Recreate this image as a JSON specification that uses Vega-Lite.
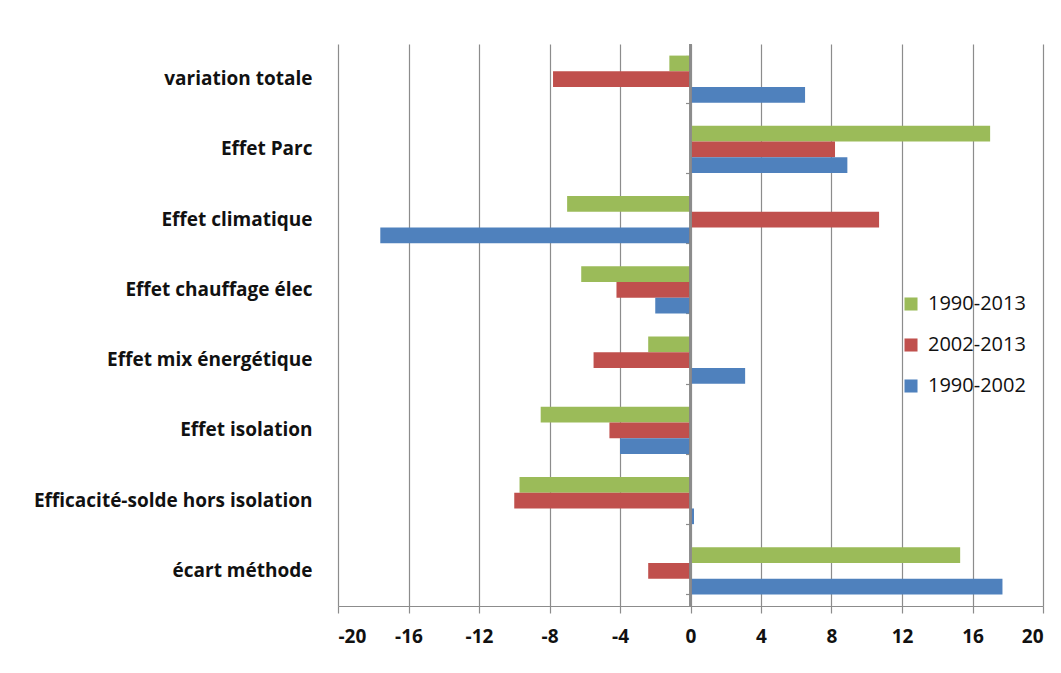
{
  "$schema": "https://vega.github.io/schema/vega-lite/v6.json",
  "autosize": {"type": "none"},
  "width": 705,
  "height": 562,
  "padding": {"left": 338, "top": 44, "right": 18, "bottom": 67},
  "background": "white",
  "config": {
    "view": {"stroke": null},
    "font": "Open Sans"
  },
  "data": {
    "values": [
      {"cat": "variation totale", "period": "1990-2013", "value": -1.2},
      {"cat": "variation totale", "period": "2002-2013", "value": -7.8},
      {"cat": "variation totale", "period": "1990-2002", "value": 6.5},
      {"cat": "Effet Parc", "period": "1990-2013", "value": 17.0},
      {"cat": "Effet Parc", "period": "2002-2013", "value": 8.2},
      {"cat": "Effet Parc", "period": "1990-2002", "value": 8.9},
      {"cat": "Effet climatique", "period": "1990-2013", "value": -7.0},
      {"cat": "Effet climatique", "period": "2002-2013", "value": 10.7},
      {"cat": "Effet climatique", "period": "1990-2002", "value": -17.6},
      {"cat": "Effet chauffage  élec", "period": "1990-2013", "value": -6.2},
      {"cat": "Effet chauffage  élec", "period": "2002-2013", "value": -4.2},
      {"cat": "Effet chauffage  élec", "period": "1990-2002", "value": -2.0},
      {"cat": "Effet mix énergétique", "period": "1990-2013", "value": -2.4},
      {"cat": "Effet mix énergétique", "period": "2002-2013", "value": -5.5},
      {"cat": "Effet mix énergétique", "period": "1990-2002", "value": 3.1},
      {"cat": "Effet isolation", "period": "1990-2013", "value": -8.5},
      {"cat": "Effet isolation", "period": "2002-2013", "value": -4.6},
      {"cat": "Effet isolation", "period": "1990-2002", "value": -4.0},
      {"cat": "Efficacité-solde  hors isolation", "period": "1990-2013", "value": -9.7},
      {"cat": "Efficacité-solde  hors isolation", "period": "2002-2013", "value": -10.0},
      {"cat": "Efficacité-solde  hors isolation", "period": "1990-2002", "value": 0.2},
      {"cat": "écart méthode", "period": "1990-2013", "value": 15.3},
      {"cat": "écart méthode", "period": "2002-2013", "value": -2.4},
      {"cat": "écart méthode", "period": "1990-2002", "value": 17.7}
    ]
  },
  "layer": [
    {
      "mark": {"type": "bar"},
      "encoding": {
        "y": {
          "field": "cat",
          "type": "nominal",
          "sort": null,
          "scale": {"paddingInner": 0.33, "paddingOuter": 0.165},
          "axis": {
            "title": null,
            "domain": false,
            "ticks": false,
            "labelPadding": 26,
            "labelFont": "Open Sans",
            "labelFontWeight": "bold",
            "labelFontSize": 19,
            "labelColor": "#111111",
            "labelLimit": 400
          }
        },
        "yOffset": {
          "field": "period",
          "type": "nominal",
          "scale": {"domain": ["1990-2013", "2002-2013", "1990-2002"], "paddingInner": 0, "paddingOuter": 0}
        },
        "x": {
          "field": "value",
          "type": "quantitative",
          "scale": {"domain": [-20, 20], "nice": false, "zero": false},
          "axis": {
            "title": null,
            "values": [-20, -16, -12, -8, -4, 0, 4, 8, 12, 16, 20],
            "labelExpr": "replace(datum.label, '−', '-')",
            "grid": true,
            "gridColor": "#8c8c8c",
            "gridWidth": 1.2,
            "domainColor": "#8c8c8c",
            "domainWidth": 1.2,
            "tickColor": "#8c8c8c",
            "tickSize": 7,
            "tickWidth": 1.2,
            "labelPadding": 14,
            "labelFont": "Open Sans",
            "labelFontWeight": "bold",
            "labelFontSize": 19,
            "labelColor": "#111111"
          }
        },
        "color": {
          "field": "period",
          "type": "nominal",
          "scale": {
            "domain": ["1990-2013", "2002-2013", "1990-2002"],
            "range": ["#9BBB59", "#C0504D", "#4F81BD"]
          },
          "legend": {
            "title": null,
            "orient": "none",
            "legendX": 563,
            "legendY": 250,
            "symbolType": "square",
            "symbolSize": 170,
            "symbolStrokeWidth": 0,
            "labelFont": "Open Sans",
            "labelFontSize": 20,
            "labelColor": "#111111",
            "rowPadding": 21,
            "labelOffset": 7
          }
        }
      }
    },
    {
      "mark": {"type": "rule", "color": "#8c8c8c", "strokeWidth": 1.2},
      "encoding": {
        "x": {"datum": 0, "type": "quantitative"}
      }
    },
    {
      "mark": {"type": "point", "opacity": 0},
      "encoding": {
        "x": {"datum": 0, "type": "quantitative"},
        "y": {
          "field": "cat",
          "type": "nominal",
          "sort": null,
          "axis": {
            "title": null,
            "orient": "left",
            "offset": -352.5,
            "labels": false,
            "domain": false,
            "ticks": true,
            "tickBand": "extent",
            "tickSize": 5,
            "tickWidth": 1.2,
            "tickColor": "#8c8c8c",
            "grid": false
          }
        }
      }
    }
  ],
  "resolve": {"axis": {"y": "independent"}}
}
